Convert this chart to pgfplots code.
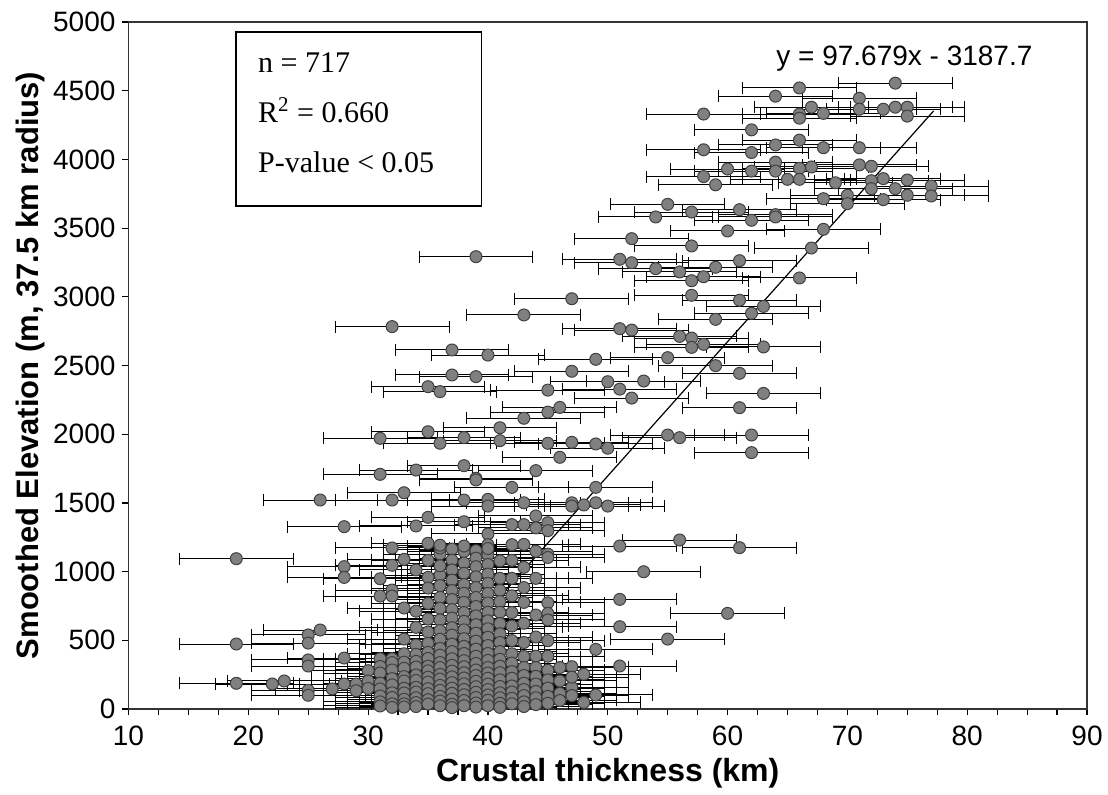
\documentclass[border=0pt]{standalone}
\usepackage{pgfplots}
\pgfplotsset{compat=1.18}
\usepackage{fontspec}
\setmainfont{Liberation Sans}
\newfontfamily\timesfont{Liberation Serif}
\begin{document}
\begin{tikzpicture}
\begin{axis}[
 scale only axis, width=479.25pt, height=343.5pt,
 xmin=10, xmax=90, ymin=0, ymax=5000,
 xtick={10,20,...,90}, ytick={0,500,...,5000},
 minor x tick num=3,
 xtick pos=bottom, ytick pos=left,
 tick align=outside, major tick length=3pt, minor tick length=3pt,
 tick style={black, line width=0.6pt},
 axis line style={black!80, line width=0.8pt},
 ticklabel style={font=\fontsize{14}{16}\selectfont},
 xticklabel style={yshift=-2pt},
 /pgf/number format/assume math mode=true,
 /pgf/number format/set thousands separator={},
 xlabel={Crustal thickness (km)},
 ylabel={Smoothed Elevation (m, 37.5 km radius)},
 xlabel style={font=\fontsize{16}{19}\selectfont\bfseries, at={(axis description cs:0.5,-0.0932)}, anchor=center},
 ylabel style={font=\fontsize{15.5}{19}\selectfont\bfseries, at={(axis description cs:-0.1025,0.5)}, anchor=center},
]
\coordinate (SW) at (rel axis cs:0,0);
\coordinate (NE) at (rel axis cs:1,1);
\addplot[only marks, mark=*, mark size=3pt,
 mark options={fill=black!50, draw=black!75, line width=0.5pt},
 error bars/.cd, x dir=both, x fixed=4.75,
 error bar style={black, line width=0.5pt},
 error mark=|,
 error mark options={black, line width=0.5pt, mark size=3pt}]
coordinates {
(66,4520) (64,4460) (58,4330) (66,4330) (66,4300) (67,4380) (68,4335) (74,4555) (71,4445) (71,4365)
(73,4365) (74,4380) (75,4380) (75,4315) (62,4215) (58,4070) (62,4050) (64,4105) (66,4140) (68,4085)
(71,4085) (64,3980) (60,3930) (62,3915) (64,3915) (66,3935) (67,3945) (71,3960) (72,3950) (58,3875)
(59,3815) (65,3855) (66,3855) (69,3830) (72,3845) (73,3860) (75,3850) (72,3787) (74,3787) (77,3806)
(70,3739) (70,3678) (68,3714) (73,3707) (75,3739) (77,3734) (55,3673) (54,3581) (57,3617) (61,3634)
(62,3557) (64,3598) (64,3581) (60,3479) (68,3491) (52,3423) (57,3370) (67,3355)
(39,3292) (51,3273) (52,3248) (54,3205) (56,3181) (57,3117) (58,3146) (59,3215) (61,3263) (47,2986)
(57,3011) (61,2975) (63,2930) (62,2880) (59,2836) (43,2868) (51,2768) (52,2758) (56,2712) (57,2700)
(57,2632) (58,2654) (63,2635) (37,2613) (40,2576) (49,2545) (55,2557) (59,2499) (61,2443) (37,2431)
(39,2419) (47,2458) (50,2382) (53,2387) (45,2321) (51,2328) (52,2263) (63,2297) (61,2193) (46,2195)
(45,2161) (43,2116) (41,2047) (38,1975) (41,1953) (45,1934) (47,1941) (49,1929) (50,1898) (55,1994)
(56,1975) (62,1994) (62,1866) (46,1832) (38,1771) (44,1735) (39,1679) (32,2783) (35,2346) (36,2310)
(35,2018) (31,1970) (36,1934) (34,1739) (31,1708) (66,3137)
(33,1574) (26,1521) (32,1521) (35,1395) (28,1327) (34,1332) (32,1172) (19,1094) (33,1089) (32,1046)
(28,1036) (28,958) (31,948) (32,866) (32,822) (31,822) (35,958) (35,880) (36,975) (26,575)
(25,539) (25,480) (19,473) (33,509) (28,371) (25,357) (25,313) (31,366) (32,366) (30,279)
(19,187) (22,182) (23,204) (27,146) (28,182) (29,182) (29,133) (30,204) (30,150) (25,136)
(25,100) (39,1667) (42,1613) (49,1613) (38,1521) (40,1526) (40,1477) (43,1501) (47,1501) (47,1477)
(48,1485) (49,1501) (50,1477) (44,1405) (38,1363) (42,1342) (43,1342) (44,1318) (45,1356) (45,1298)
(40,1274) (40,1196) (42,1196) (51,1186) (56,1230) (61,1174) (45,1127) (45,1103) (53,999) (43,1031)
(44,951) (41,951) (42,951) (51,798) (60,696) (51,599) (55,509) (49,434) (45,773) (45,696)
(45,648) (45,497) (47,308) (51,313) (48,253) (47,158) (49,102) (46,114)
(31,310) (31,262) (31,188) (31,146) (31,95) (31,52) (31,22)
(32,338) (32,284) (32,221) (32,176) (32,118) (32,84) (32,38) (32,12)
(33,402) (33,341) (33,296) (33,236) (33,204) (33,151) (33,117) (33,71) (33,38) (33,14) (33,735)
(34,712) (34,594) (34,466) (34,398) (34,347) (34,306) (34,248) (34,208) (34,158) (34,124) (34,82) (34,47) (34,18) (34,1012)
(35,1206) (35,768) (35,655) (35,560) (35,478) (35,412) (35,368) (35,312) (35,278) (35,232) (35,196) (35,148) (35,112) (35,68) (35,36) (35,1082)
(36,1128) (36,1042) (36,898) (36,812) (36,733) (36,648) (36,571) (36,508) (36,441) (36,392) (36,338) (36,302) (36,252) (36,218) (36,172) (36,136) (36,92) (36,58) (36,24) (36,1172)
(37,1164) (37,1083) (37,1012) (37,938) (37,862) (37,797) (37,724) (37,662) (37,592) (37,538) (37,472) (37,418) (37,366) (37,318) (37,276) (37,234) (37,192) (37,152) (37,114) (37,72) (37,34) (37,10)
(38,1146) (38,1062) (38,988) (38,906) (38,842) (38,776) (38,702) (38,638) (38,576) (38,512) (38,456) (38,404) (38,352) (38,308) (38,264) (38,226) (38,184) (38,142) (38,104) (38,62) (38,24)
(39,1152) (39,1098) (39,1036) (39,962) (39,884) (39,812) (39,746) (39,678) (39,614) (39,552) (39,494) (39,436) (39,384) (39,332) (39,284) (39,244) (39,202) (39,162) (39,122) (39,84) (39,44) (39,14)
(40,1122) (40,1052) (40,982) (40,914) (40,842) (40,772) (40,704) (40,642) (40,584) (40,522) (40,462) (40,404) (40,354) (40,302) (40,262) (40,224) (40,182) (40,142) (40,102) (40,64) (40,24)
(41,1078) (41,864) (41,782) (41,704) (41,622) (41,548) (41,484) (41,418) (41,362) (41,312) (41,264) (41,212) (41,164) (41,118) (41,82) (41,42) (41,12)
(42,1082) (42,824) (42,702) (42,604) (42,498) (42,402) (42,334) (42,272) (42,224) (42,168) (42,124) (42,78) (42,38)
(43,1198) (43,884) (43,776) (43,624) (43,484) (43,382) (43,302) (43,244) (43,188) (43,142) (43,98) (43,52) (43,18)
(44,1148) (44,684) (44,524) (44,384) (44,302) (44,238) (44,182) (44,128) (44,82) (44,32)
(45,384) (45,282) (45,212) (45,152) (45,92) (45,42)
(46,302) (46,204) (46,62) (47,232) (47,98) (48,48) (36,1192) (38,1186) (40,1168)
};
\addplot[black, line width=0.6pt] coordinates {(32.65,1.5) (77.2,4353)};
\draw[black, line width=0.8pt, fill=white] (axis cs:18.96,3661) rectangle (axis cs:39.46,4927);
\node[anchor=base west, inner sep=0, font=\timesfont\fontsize{15}{17}\selectfont] at (axis cs:20.79,4636) {n = 717};
\node[anchor=base west, inner sep=0, font=\timesfont\fontsize{15}{17}\selectfont] at (axis cs:20.79,4272) {R\textsuperscript{2} = 0.660};
\node[anchor=base west, inner sep=0, font=\timesfont\fontsize{15}{17}\selectfont] at (axis cs:20.79,3908) {P-value < 0.05};
\node[anchor=base west, inner sep=0, font=\fontsize{14}{17}\selectfont] at (axis cs:64.04,4680) {y = 97.679x - 3187.7};
\end{axis}
\path (SW) ++(-64.25pt,-42.5pt) coordinate (A);
\path (NE) ++(10.5pt,11pt) coordinate (B);
\pgfresetboundingbox
\path[use as bounding box] (A) rectangle (B);
\end{tikzpicture}
\end{document}
